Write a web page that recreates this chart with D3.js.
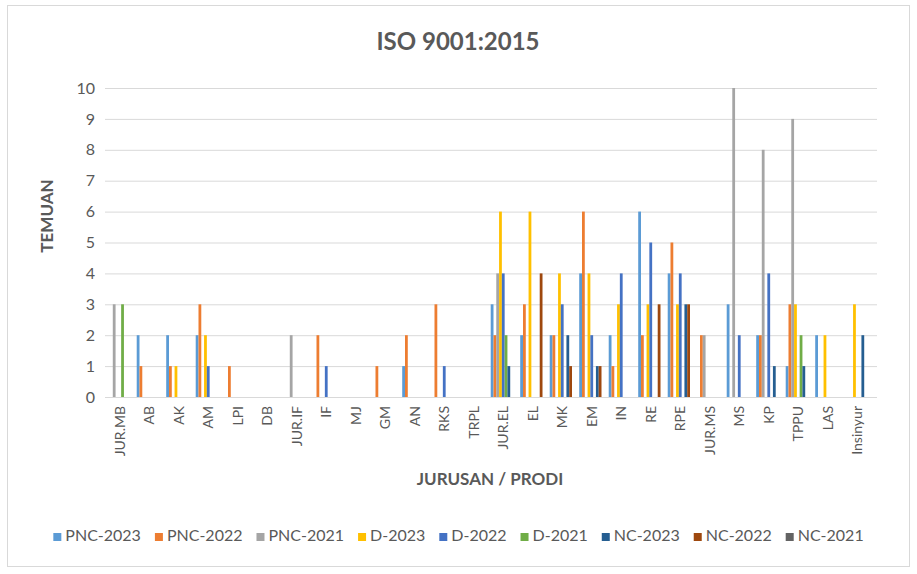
<!DOCTYPE html>
<html>
<head>
<meta charset="utf-8">
<script src="https://cdn.jsdelivr.net/npm/d3@7"></script>
<style>
    body { margin: 0; background: #fff; }
    svg text { font-family: Lato, "Open Sans", sans-serif; fill: #595959; }
</style>
</head>
<body>
<div id="chart"></div>
<script>
// categories (jurusan / prodi)
const categories = ['JUR.MB', 'AB', 'AK', 'AM', 'LPI', 'DB', 'JUR.IF', 'IF', 'MJ', 'GM', 'AN', 'RKS', 'TRPL',
    'JUR.EL', 'EL', 'MK', 'EM', 'IN', 'RE', 'RPE', 'JUR.MS', 'MS', 'KP', 'TPPU', 'LAS', 'Insinyur'];

const seriesNames = ['PNC-2023', 'PNC-2022', 'PNC-2021', 'D-2023', 'D-2022', 'D-2021', 'NC-2023', 'NC-2022', 'NC-2021'];
const seriesColors = ['#5B9BD5', '#ED7D31', '#A5A5A5', '#FFC000', '#4472C4', '#70AD47', '#255E91', '#9E480E', '#636363'];

// values per series, same order as categories
const pnc2023 = [0, 2, 2, 2, 0, 0, 0, 0, 0, 0, 1, 0, 0, 3, 2, 2, 4, 2, 6, 4, 0, 3, 2, 1, 2, 0];
const pnc2022 = [0, 1, 1, 3, 1, 0, 0, 2, 0, 1, 2, 3, 0, 2, 3, 2, 6, 1, 2, 5, 2, 0, 2, 3, 0, 0];
const pnc2021 = [3, 0, 0, 0, 0, 0, 2, 0, 0, 0, 0, 0, 0, 4, 0, 0, 0, 0, 0, 0, 2, 10, 8, 9, 0, 0];
const d2023   = [0, 0, 1, 2, 0, 0, 0, 0, 0, 0, 0, 0, 0, 6, 6, 4, 4, 3, 3, 3, 0, 0, 0, 3, 2, 3];
const d2022   = [0, 0, 0, 1, 0, 0, 0, 1, 0, 0, 0, 1, 0, 4, 0, 3, 2, 4, 5, 4, 0, 2, 4, 0, 0, 0];
const d2021   = [3, 0, 0, 0, 0, 0, 0, 0, 0, 0, 0, 0, 0, 2, 0, 0, 0, 0, 0, 0, 0, 0, 0, 2, 0, 0];
const nc2023  = [0, 0, 0, 0, 0, 0, 0, 0, 0, 0, 0, 0, 0, 1, 0, 2, 1, 0, 0, 3, 0, 0, 1, 1, 0, 2];
const nc2022  = [0, 0, 0, 0, 0, 0, 0, 0, 0, 0, 0, 0, 0, 0, 4, 1, 1, 0, 3, 3, 0, 0, 0, 0, 0, 0];
const nc2021  = [0, 0, 0, 0, 0, 0, 0, 0, 0, 0, 0, 0, 0, 0, 0, 0, 0, 0, 0, 0, 0, 0, 0, 0, 0, 0];

const yTicks = [0, 1, 2, 3, 4, 5, 6, 7, 8, 9, 10];

const seriesValues = [pnc2023, pnc2022, pnc2021, d2023, d2022, d2021, nc2023, nc2022, nc2021];

// flat table: [category, series, value]
const table = [];
categories.forEach((c, i) => {
    seriesNames.forEach((s, j) => table.push([c, s, seriesValues[j][i]]));
});

const width = 917, height = 574;
const margin = [88, 177, 105, 40]; // top, bottom, left, right
const chartWidth = width - margin[2] - margin[3],
      chartHeight = height - margin[0] - margin[1];

const svg = d3.select('#chart')
    .append('svg')
    .attr('width', width)
    .attr('height', height);

// outer frame
svg.append('rect')
    .attr('x', 7.5).attr('y', 5.5)
    .attr('width', 902).attr('height', 561)
    .attr('fill', '#fff')
    .attr('stroke', '#d9d9d9');

// title
svg.append('text')
    .attr('x', 458).attr('y', 50)
    .attr('text-anchor', 'middle')
    .style('font-size', '24px')
    .style('font-weight', 'bold')
    .text('ISO 9001:2015');

const chart = svg.append('g')
    .attr('transform', `translate(${margin[2]}, ${margin[0]})`);

const scaleX = d3.scaleBand(categories, [0, chartWidth - 5]).paddingInner(0.15).paddingOuter(0.075);
const scaleS = d3.scaleBand(seriesNames, [0, scaleX.bandwidth()]);
const scaleY = d3.scaleLinear([0, 10], [chartHeight, 0]);
const color = d3.scaleOrdinal(seriesNames, seriesColors);

// gridlines + y labels
const axisY = chart.append('g')
    .call(d3.axisLeft(scaleY).tickValues(yTicks).tickSize(-chartWidth).tickPadding(10));
axisY.select('.domain').remove();
axisY.selectAll('line').attr('stroke', '#d9d9d9').attr('stroke-width', 1);
axisY.selectAll('text').style('font-size', '16px').attr('fill', '#595959');

// bars
chart.append('g')
    .selectAll('rect.bar')
    .data(table)
    .join('rect')
    .classed('bar', true)
    .attr('x', d => scaleX(d[0]) + scaleS(d[1]))
    .attr('y', d => scaleY(d[2]))
    .attr('width', scaleS.bandwidth())
    .attr('height', d => scaleY(0) - scaleY(d[2]))
    .attr('fill', d => color(d[1]));

// x axis labels
const axisX = chart.append('g')
    .attr('transform', `translate(0, ${chartHeight})`)
    .call(d3.axisBottom(scaleX).tickSize(0).tickPadding(0));
axisX.select('.domain').attr('stroke', '#d9d9d9');
axisX.selectAll('text')
    .style('font-size', '14px')
    .style('text-anchor', 'end')
    .attr('fill', '#595959')
    .attr('dx', '-9')
    .attr('dy', '0.35em')
    .attr('transform', 'rotate(-90)');

// axis titles
svg.append('text')
    .attr('transform', `translate(53, 216) rotate(-90)`)
    .attr('text-anchor', 'middle')
    .style('font-size', '17px')
    .style('font-weight', 'bold')
    .text('TEMUAN');
svg.append('text')
    .attr('x', 490)
    .attr('y', 485)
    .attr('text-anchor', 'middle')
    .style('font-size', '17px')
    .style('font-weight', 'bold')
    .text('JURUSAN / PRODI');

// legend, centred under the chart
const legend = svg.append('g');
const items = legend.selectAll('g.item')
    .data(seriesNames)
    .join('g')
    .classed('item', true);
items.append('rect')
    .attr('width', 8).attr('height', 8)
    .attr('y', -8)
    .attr('fill', d => color(d));
items.append('text')
    .attr('x', 12)
    .style('font-size', '16px')
    .text(d => d);
let offset = 0;
items.each(function () {
    d3.select(this).attr('transform', `translate(${offset}, 541)`);
    offset += this.getBBox().width + 14;
});
legend.attr('transform', `translate(${(width - (offset - 14)) / 2}, 0)`);
</script>
</body>
</html>
